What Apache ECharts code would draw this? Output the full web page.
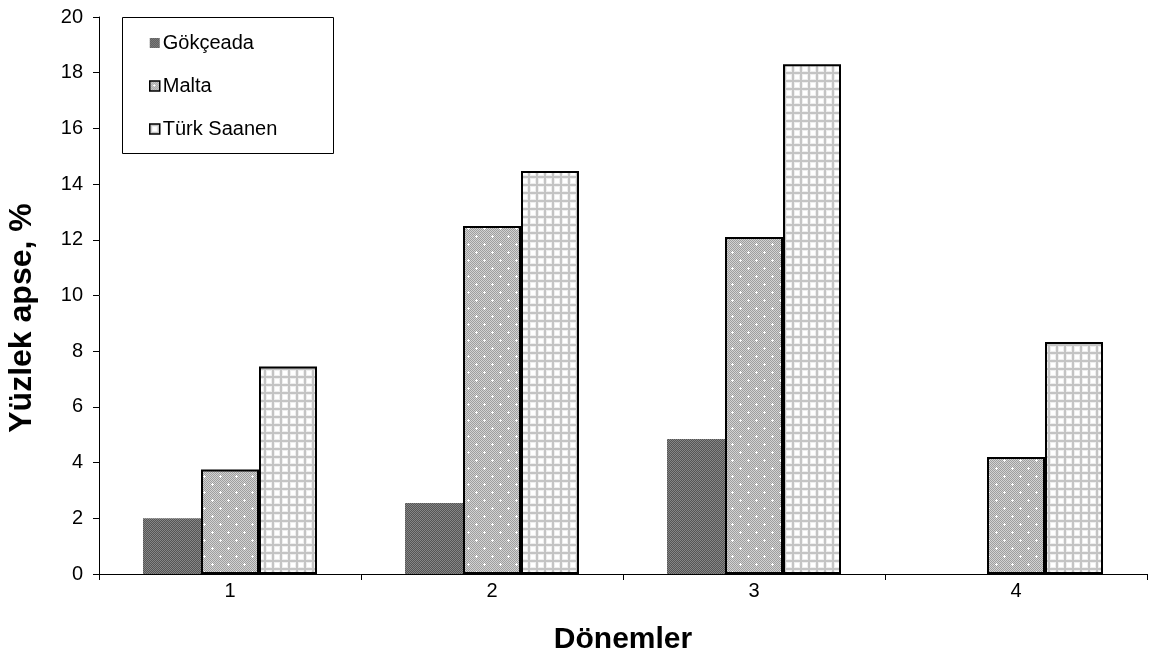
<!DOCTYPE html>
<html>
<head>
<meta charset="utf-8">
<script src="https://cdn.jsdelivr.net/npm/echarts@6/dist/echarts.min.js"></script>
<style>
html,body{margin:0;padding:0;background:#fff;}
#chart{width:1151px;height:660px;}
</style>
</head>
<body>
<div id="chart"></div>
<script>
// ---- data ----
const categories = ['1', '2', '3', '4'];
const seriesNames = ['Gökçeada', 'Malta', 'Türk Saanen'];
const gokceada = [2.0, 2.55, 4.85, 0];
const malta = [3.75, 12.5, 12.1, 4.2];
const turkSaanen = [7.45, 14.47, 18.3, 8.33];
const yTicks = [0, 2, 4, 6, 8, 10, 12, 14, 16, 18, 20];
const xTitle = 'Dönemler';
const yTitle = 'Yüzlek apse, %';

// ---- patterns ----
function makeCanvas(w, h, draw) {
  const c = document.createElement('canvas');
  c.width = w; c.height = h;
  draw(c.getContext('2d'));
  return c;
}
const patDark = makeCanvas(2, 2, ctx => {
  ctx.fillStyle = '#555555'; ctx.fillRect(0, 0, 2, 2);
  ctx.fillStyle = '#868686'; ctx.fillRect(0, 0, 1, 1); ctx.fillRect(1, 1, 1, 1);
});
const patDots = makeCanvas(16, 16, ctx => {
  for (let y = 0; y < 16; y++) for (let x = 0; x < 16; x++) {
    ctx.fillStyle = ((x + y) % 2 === 0) ? '#9e9e9e' : '#d2d2d2';
    ctx.fillRect(x, y, 1, 1);
  }
  ctx.fillStyle = '#ffffff';
  [[4, 4], [12, 12]].forEach(([cx, cy]) => {
    ctx.fillRect(cx - 1, cy, 3, 1);
    ctx.fillRect(cx, cy - 1, 1, 3);
  });
});
const patGrid = makeCanvas(8, 8, ctx => {
  ctx.fillStyle = '#ffffff'; ctx.fillRect(0, 0, 8, 8);
  ctx.fillStyle = '#eeeeee'; ctx.fillRect(2, 2, 6, 6);
  ctx.fillStyle = '#ffffff'; ctx.fillRect(3, 3, 4, 4);
  ctx.fillStyle = '#c4c4c4';
  ctx.fillRect(0, 0, 8, 2);
  ctx.fillRect(0, 0, 2, 8);
});

const fills = [
  { image: patDark, repeat: 'repeat' },
  { image: patDots, repeat: 'repeat' },
  { image: patGrid, repeat: 'repeat' }
];
const borders = [['#7a7a7a', 0], ['#000000', 2], ['#000000', 2]];
const dataSets = [gokceada, malta, turkSaanen];

const chart = echarts.init(document.getElementById('chart'), null, { renderer: 'canvas' });
const FONT = '"Liberation Sans", Arial, sans-serif';

chart.setOption({
  animation: false,
  backgroundColor: '#ffffff',
  textStyle: { fontFamily: FONT, color: '#000' },
  grid: { left: 99, right: 4, top: 17, bottom: 86, containLabel: false },
  legend: {
    orient: 'vertical',
    left: 149,
    top: 33,
    itemWidth: 10,
    itemHeight: 10,
    itemGap: 23,
    icon: 'rect',
    padding: 0,
    textStyle: { fontFamily: FONT, fontSize: 20, color: '#000', lineHeight: 20, padding: [0, 0, 0, -2] },
    data: seriesNames.map((n, i) => ({
      name: n,
      itemStyle: { borderColor: i === 0 ? '#7a7a7a' : '#000', borderWidth: i === 0 ? 0 : 1.5 }
    }))
  },
  xAxis: {
    type: 'category',
    data: categories,
    boundaryGap: true,
    name: xTitle,
    nameLocation: 'middle',
    nameGap: 51,
    nameTextStyle: { fontFamily: FONT, fontSize: 30, fontWeight: 'bold', color: '#000' },
    axisLine: { lineStyle: { color: '#000', width: 1 } },
    axisTick: { show: true, length: 6, inside: false, alignWithLabel: false, interval: 0, lineStyle: { color: '#000' } },
    axisLabel: { fontFamily: FONT, fontSize: 20, color: '#000', margin: 7 },
    splitLine: { show: false }
  },
  yAxis: {
    type: 'value',
    min: 0,
    max: 20,
    interval: 2,
    axisLine: { show: true, lineStyle: { color: '#000', width: 1 } },
    axisTick: { show: true, length: 6, inside: false, lineStyle: { color: '#000' } },
    axisLabel: {
      fontFamily: FONT, fontSize: 20, color: '#000', margin: 16,
      formatter: v => (yTicks.indexOf(v) >= 0 ? String(v) : '')
    },
    splitLine: { show: false }
  },
  graphic: [
    {
      type: 'rect',
      shape: { x: 122.5, y: 17.5, width: 211, height: 136 },
      style: { fill: '#ffffff', stroke: '#000', lineWidth: 1 },
      z: 1
    },
    {
      type: 'text',
      x: 22,
      y: 318,
      rotation: Math.PI / 2,
      style: {
        text: yTitle,
        fontFamily: FONT,
        fontSize: 32,
        fontWeight: 'bold',
        fill: '#000',
        align: 'center',
        verticalAlign: 'middle'
      }
    }
  ],
  series: dataSets.map((d, i) => ({
    name: seriesNames[i],
    type: 'bar',
    data: d,
    barWidth: 58,
    barGap: '0%',
    itemStyle: { color: fills[i], borderColor: borders[i][0], borderWidth: borders[i][1] },
    emphasis: { disabled: true }
  }))
});
</script>
</body>
</html>
